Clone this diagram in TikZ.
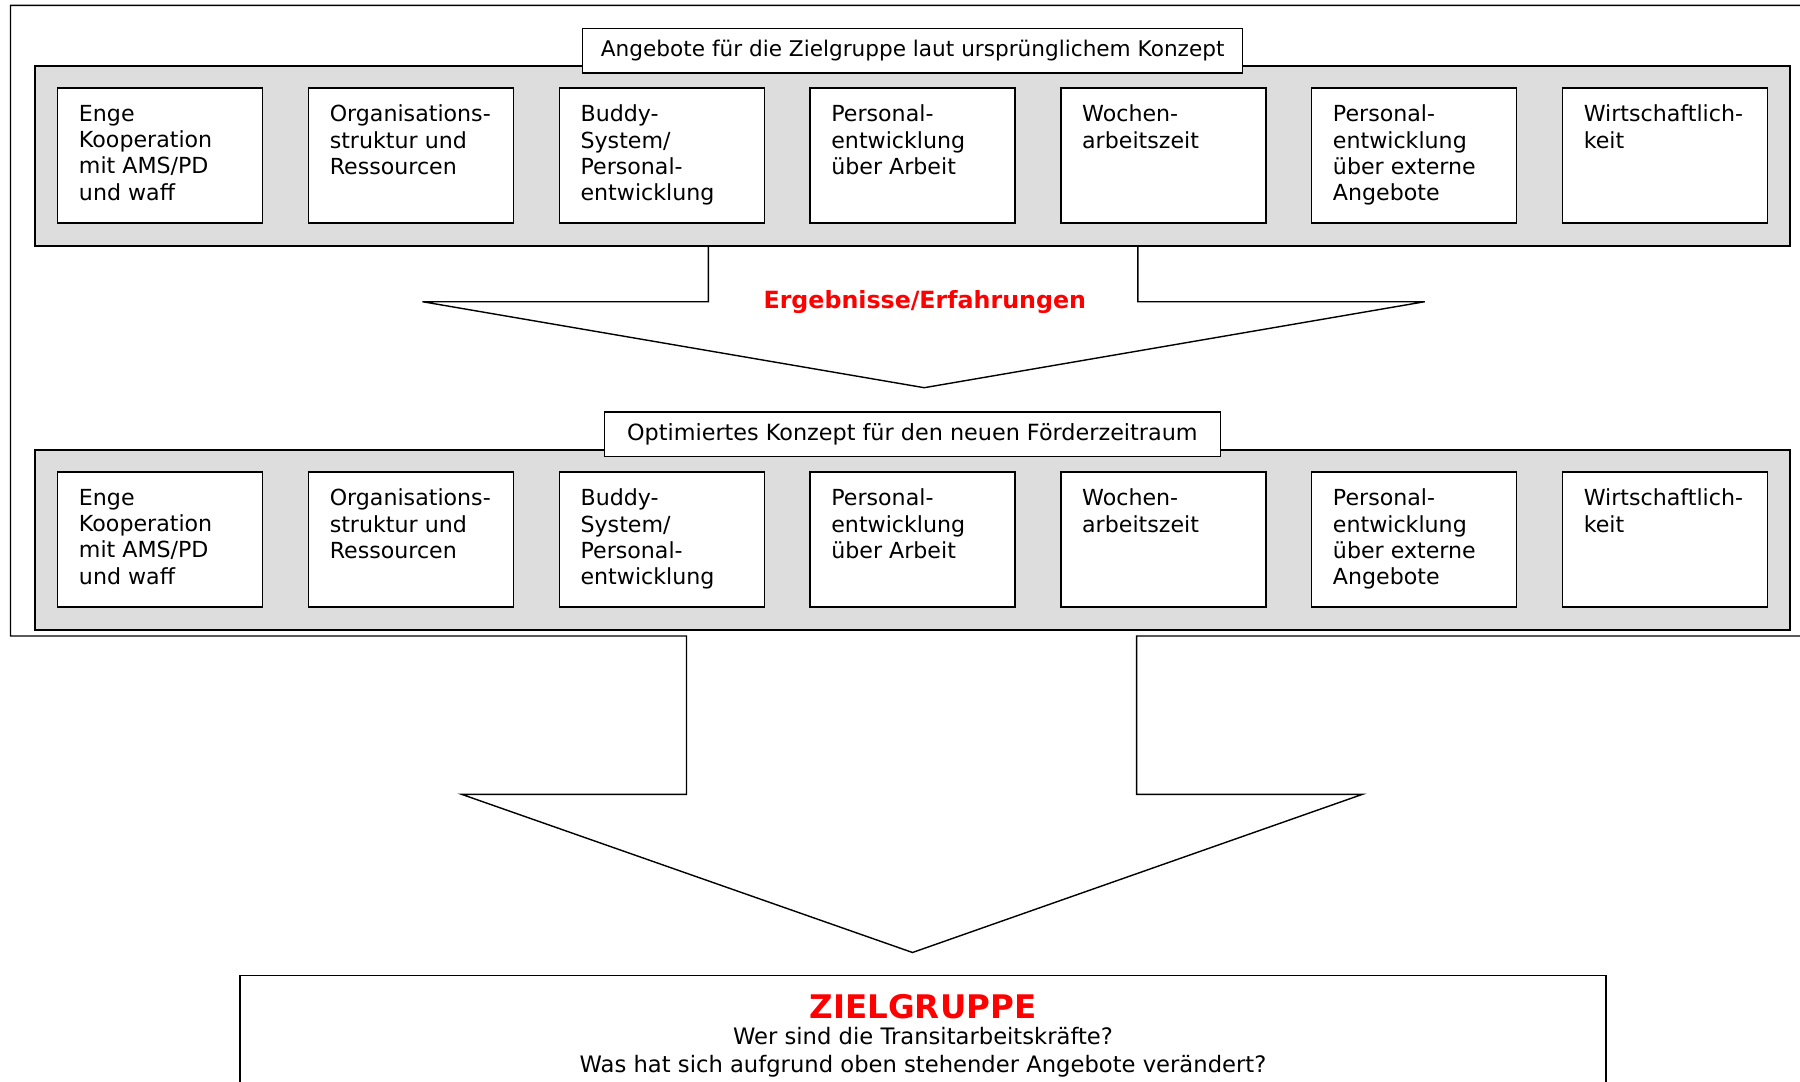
\documentclass[tikz,border=0pt]{standalone}
\usepackage{fontspec}
\setmainfont{DejaVu Sans}
\usetikzlibrary{calc,positioning}
\definecolor{BandGray}{HTML}{DDDDDD}
\definecolor{Alert}{HTML}{FF0000}
\tikzset{band/.style={draw,fill=BandGray,line width=1pt,minimum width=35.11cm,minimum height=3.6cm,inner sep=0pt},offer/.style={draw,fill=white,line width=.8pt,inner xsep=.424cm,inner ysep=.34cm,font=\fontsize{12.6}{15}\selectfont},heading/.style={draw,fill=white,line width=.8pt,inner sep=0pt,minimum height=.89cm},outline/.style={line width=.8pt,line join=miter}}
\newcommand\offertext[1]{\parbox[c][2.02cm][t]{3.25cm}{\raggedright #1}}

\begin{document}
\begin{tikzpicture}[x=.02cm,y=-.02cm]
  \clip (0,0) rectangle (1800,1082);
  % frame round both concepts, opening into the big arrow
  \draw[outline] (1830,636) -- (1136.6,636) -- (1136.6,794.3) -- (1362.5,794.3) -- (912.5,952.5) -- (461.6,794.3) -- (686.5,794.3) -- (686.5,636) -| (10.5,5.3) -- (1830,5.3);
  \node[band] (band1) at (912.2,155.7) {};
  \node[band] (band2) at (912.2,540) {};
  \node[heading,minimum width=13.2cm,font=\fontsize{12.3}{15}\selectfont] (oldhead) at (912.7,50.7) {Angebote für die Zielgruppe laut ursprünglichem Konzept};
  \node[heading,minimum width=12.33cm,font=\fontsize{12.7}{15}\selectfont] (newhead) at (912.4,434.2) {Optimiertes Konzept für den neuen Förderzeitraum};
  \foreach \txt [count=\i] in {{Enge\\Kooperation\\mit AMS/PD\\und waff},{Organisations-\\struktur und\\Ressourcen},{Buddy-\\System/\\Personal-\\entwicklung},{Personal-\\entwicklung\\über Arbeit},{Wochen-\\arbeitszeit},{Personal-\\entwicklung\\über externe\\Angebote},{Wirtschaftlich-\\keit}}{
    \node[offer] (old\i) at ({160.2+(\i-1)*250.8},155.5) {\offertext{\txt}};
    \node[offer] (new\i) at ({160.2+(\i-1)*250.8},539.5) {\offertext{\txt}};
  }
  % arrow between the two concepts
  \draw[outline] (708.4,0 |- band1.south) -- (708.4,301.7) -- (422.5,301.7) -- (924.2,387.7) -- (1424.8,301.7) -- (1137.8,301.7) -- (1137.8,0 |- band1.south);
  \node[font=\fontsize{13.5}{15}\selectfont\bfseries,text=Alert] (lesson) at (924.8,301.7) {Ergebnisse/Erfahrungen};
  \node[draw,fill=white,line width=.8pt,minimum width=27.32cm,minimum height=2.41cm,inner sep=0pt,anchor=north,align=center,font=\fontsize{12.9}{15.8}\selectfont] (target) at (923,974.5) {{\fontsize{18.5}{20}\selectfont\bfseries\color{Alert}ZIELGRUPPE}\\[-.8pt]Wer sind die Transitarbeitskräfte?\\Was hat sich aufgrund oben stehender Angebote verändert?};
\end{tikzpicture}
\end{document}
